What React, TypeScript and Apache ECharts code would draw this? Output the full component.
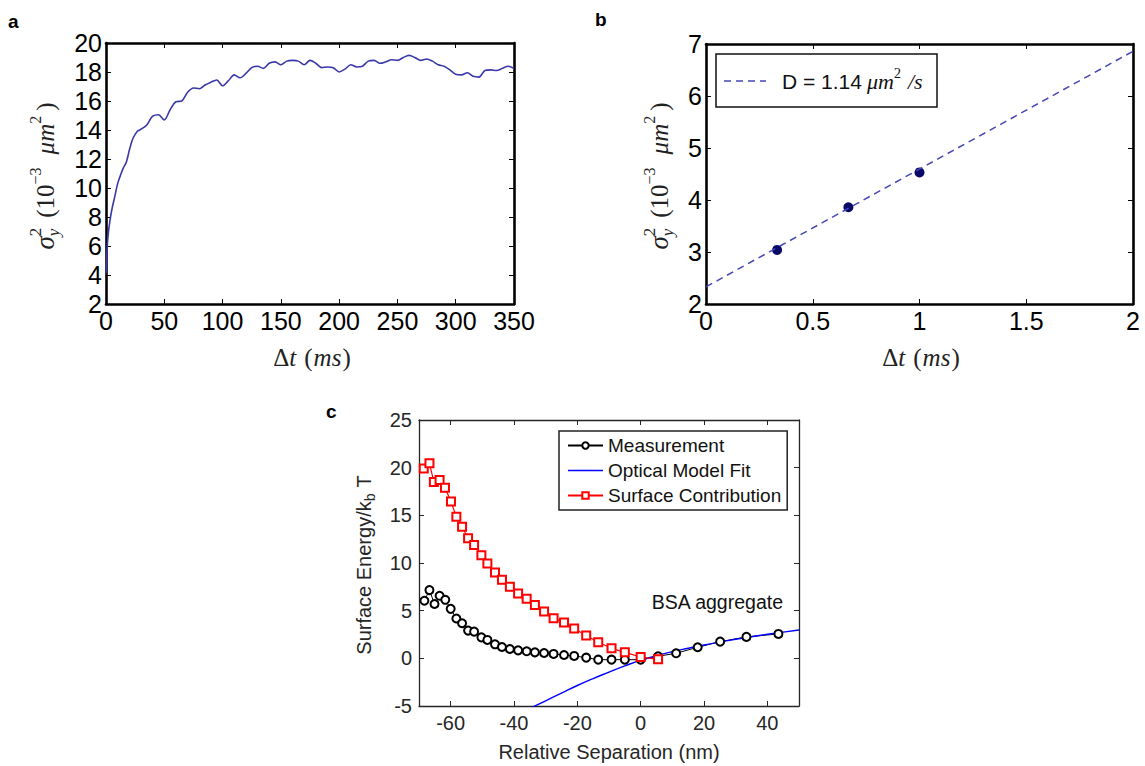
import React, { useEffect, useRef } from 'react';
import * as echarts from 'echarts';

// ---------- Panel a: variance vs lag time ----------
const aTime = [0, 1, 2, 3.5, 5, 7.5, 10, 12.5, 15, 17.5, 20, 22.5, 25, 27.5, 30, 35, 40, 45, 50, 55, 60, 65, 70, 75, 80, 85, 90, 95, 100, 105, 110, 115, 120, 125, 130, 135, 140, 145, 150, 155, 160, 165, 170, 175, 180, 185, 190, 195, 200, 205, 210, 215, 220, 225, 230, 235, 240, 245, 250, 255, 260, 265, 270, 275, 280, 285, 290, 295, 300, 305, 310, 315, 320, 325, 330, 335, 340, 345, 350];
const aVar = [4.1, 5.9, 6.9, 7.8, 8.5, 9.4, 10.3, 10.9, 11.4, 11.8, 12.6, 13.3, 13.7, 13.95, 14.05, 14.35, 14.95, 15.05, 14.7, 15.4, 15.95, 16.0, 16.6, 16.9, 16.85, 17.1, 17.3, 17.45, 17.05, 17.4, 17.8, 17.6, 17.9, 18.3, 18.4, 18.25, 18.6, 18.7, 18.5, 18.75, 18.8, 18.75, 18.5, 18.8, 18.6, 18.3, 18.35, 18.3, 18.0, 18.2, 18.5, 18.35, 18.4, 18.75, 18.8, 18.6, 18.7, 18.85, 18.8, 19.0, 19.15, 19.0, 18.8, 18.9, 18.75, 18.5, 18.4, 18.15, 17.85, 17.8, 17.95, 17.7, 17.65, 18.1, 18.15, 18.1, 18.25, 18.4, 18.25];

// ---------- Panel b: short-lag points + linear fit ----------
const bTime = [0.333, 0.667, 1.0];
const bVar = [3.04, 3.86, 4.53];
const bFitTime = [0, 2];
const bFitVar = [2.33, 6.86];

// ---------- Panel c: surface energy ----------
const cMeasX = [-68.3, -66.7, -65.1, -63.5, -61.7, -60.0, -58.2, -56.4, -54.5, -52.6, -50.3, -48.4, -46.0, -43.8, -41.3, -38.7, -36.0, -33.4, -30.5, -27.5, -24.2, -21.0, -17.2, -13.4, -9.2, -5.0, 0.0, 5.5, 11.2, 18.0, 25.1, 33.4, 43.5];
const cMeasY = [6.04, 7.16, 5.7, 6.56, 6.14, 5.19, 4.18, 3.68, 2.91, 2.8, 2.2, 1.93, 1.47, 1.19, 0.98, 0.84, 0.74, 0.63, 0.56, 0.46, 0.35, 0.25, 0.07, -0.14, -0.14, -0.14, -0.14, 0.22, 0.53, 1.16, 1.75, 2.25, 2.56];
const cSurfX = [-68.5, -66.7, -65.3, -63.5, -61.8, -59.9, -58.2, -56.4, -54.5, -52.6, -50.3, -48.4, -46.0, -43.8, -41.3, -38.7, -36.0, -33.4, -30.5, -27.5, -24.2, -21.0, -17.2, -13.4, -9.2, -5.0, 0.0, 5.5];
const cSurfY = [19.9, 20.46, 18.5, 18.7, 17.9, 16.45, 14.84, 13.8, 12.6, 11.9, 10.8, 9.96, 9.0, 8.25, 7.5, 6.8, 6.25, 5.6, 4.9, 4.2, 3.75, 3.12, 2.39, 1.68, 1.05, 0.63, 0.14, -0.1];
const cFitX = [-35, -30, -25, -20, -15, -10, -5, 0, 5, 10, 15, 20, 25, 30, 35, 40, 45, 50];
const cFitY = [-5.25, -4.45, -3.65, -2.85, -2.12, -1.45, -0.8, -0.2, 0.27, 0.7, 1.06, 1.4, 1.71, 2.0, 2.27, 2.52, 2.75, 2.97];
const cXTicks = [-60, -40, -20, 0, 20, 40];
const cLegend = ['Measurement', 'Optical Model Fit', 'Surface Contribution'];

const SERIF = '"Liberation Serif", "DejaVu Serif", serif';
const SANS = '"Liberation Sans", Arial, sans-serif';

let mctx: CanvasRenderingContext2D | null = null;
function measure(t: string, font: string): number {
  if (!mctx) mctx = document.createElement('canvas').getContext('2d');
  if (!mctx) return t.length * 10;
  mctx.font = font;
  return mctx.measureText(t).width;
}

type Piece = { t: string; size: number; fam: string; it?: boolean; bold?: boolean; dy?: number; stack?: boolean; gap?: number };

function mathText(pieces: Piece[], x: number, y: number, color: string, rotation = 0, anchor: 'center' | 'left' = 'center') {
  const placed: { p: Piece; font: string; px: number }[] = [];
  let cursor = 0;
  let lastStart = 0;
  for (const p of pieces) {
    const font = `${p.it ? 'italic ' : ''}${p.bold ? 'bold ' : ''}${p.size}px ${p.fam}`;
    const w = measure(p.t, font);
    let px: number;
    if (p.stack) {
      px = lastStart;
      cursor = Math.max(cursor, lastStart + w);
    } else {
      px = cursor + (p.gap ?? 0);
      lastStart = px;
      cursor = px + w;
    }
    placed.push({ p, font, px });
  }
  const off = anchor === 'left' ? 0 : -cursor / 2;
  return {
    type: 'group',
    x,
    y,
    rotation,
    silent: true,
    children: placed.map(({ p, font, px }) => ({
      type: 'text',
      x: px + off,
      y: p.dy ?? 0,
      style: { text: p.t, font, fill: color, textAlign: 'left', textVerticalAlign: 'middle', align: 'left', verticalAlign: 'middle' },
    })),
  };
}

function sigmaLabel(x: number, y: number) {
  return mathText(
    [
      { t: 'σ', size: 27, fam: SERIF, it: true },
      { t: 'y', size: 17, fam: SERIF, it: true, dy: 8 },
      { t: '2', size: 17, fam: SERIF, dy: -10, stack: true },
      { t: '(10', size: 25, fam: SERIF, gap: 10 },
      { t: '−3', size: 16, fam: SERIF, dy: -10 },
      { t: 'μm', size: 25, fam: SERIF, it: true, gap: 13 },
      { t: '2', size: 16, fam: SERIF, dy: -10 },
      { t: ')', size: 25, fam: SERIF, gap: 5 },
    ],
    x,
    y,
    '#222',
    Math.PI / 2
  );
}

function dtLabel(x: number, y: number) {
  return mathText(
    [
      { t: 'Δ', size: 25, fam: SERIF },
      { t: 't', size: 25, fam: SERIF, it: true },
      { t: '(', size: 25, fam: SERIF, gap: 8 },
      { t: 'ms', size: 25, fam: SERIF, it: true, gap: 1 },
      { t: ')', size: 25, fam: SERIF, gap: 1 },
    ],
    x,
    y,
    '#222'
  );
}

function frameAxes(gridIndex: number, min: number, max: number, interval: number | null, isX: boolean, opts: any) {
  const common = {
    gridIndex,
    type: 'value',
    min,
    max,
    ...(interval !== null ? { interval } : {}),
    splitLine: { show: false },
    axisLine: { show: true, onZero: false, lineStyle: { color: opts.lineColor, width: opts.lineWidth } },
    axisTick: {
      show: true,
      inside: true,
      length: opts.tickLen,
      lineStyle: { color: opts.lineColor, width: 1 },
      ...(opts.custom ? { customValues: opts.custom } : {}),
    },
  };
  const main = {
    ...common,
    position: isX ? 'bottom' : 'left',
    axisLabel: {
      show: true,
      showMinLabel: true,
      showMaxLabel: true,
      fontSize: opts.fontSize,
      fontFamily: opts.fontFamily,
      color: opts.labelColor,
      margin: opts.margin,
      ...(opts.custom ? { customValues: opts.custom } : {}),
    },
  };
  const mirror = {
    ...common,
    position: isX ? 'top' : 'right',
    axisLabel: { show: false },
  };
  return [main, mirror];
}

export default function App() {
  const ref = useRef<HTMLDivElement>(null);

  useEffect(() => {
    if (!ref.current) return;
    const chart = echarts.init(ref.current, null, { renderer: 'svg' });

    const abStyle = { lineColor: '#000', lineWidth: 2.6, tickLen: 5, fontSize: 25, fontFamily: SANS, labelColor: '#000', margin: 4 };
    const cStyle = { lineColor: '#262626', lineWidth: 1.3, tickLen: 5, fontSize: 20, fontFamily: SANS, labelColor: '#262626', margin: 7 };

    const xAxes = [
      ...frameAxes(0, 0, 350, 50, true, abStyle),
      ...frameAxes(1, 0, 2, 0.5, true, abStyle),
      ...frameAxes(2, -70, 50, null, true, { ...cStyle, custom: cXTicks }),
    ];
    const yAxes = [
      ...frameAxes(0, 2, 20, 2, false, abStyle),
      ...frameAxes(1, 2, 7, 1, false, abStyle),
      ...frameAxes(2, -5, 25, 5, false, cStyle),
    ];

    const option: any = {
      animation: false,
      backgroundColor: '#fff',
      grid: [
        { left: 106, top: 43, width: 408, height: 261, outerBoundsMode: 'none', containLabel: false },
        { left: 706, top: 44, width: 427, height: 260, outerBoundsMode: 'none', containLabel: false },
        { left: 419, top: 420, width: 380, height: 286, outerBoundsMode: 'none', containLabel: false },
      ],
      xAxis: xAxes,
      yAxis: yAxes,
      legend: [
        {
          data: [
            { name: cLegend[0] },
            { name: cLegend[1], icon: 'path://M0 0H100V4H0Z', itemStyle: { color: '#0000ff' } },
            { name: cLegend[2] },
          ],
          orient: 'vertical',
          left: 559,
          top: 431,
          itemWidth: 35,
          itemHeight: 8,
          itemGap: 6,
          padding: [5, 6, 5, 8],
          borderColor: '#222',
          borderWidth: 1.5,
          backgroundColor: '#fff',
          textStyle: { fontSize: 19, fontFamily: SANS, color: '#111' },
          selectedMode: false,
        },
      ],
      series: [
        {
          type: 'line',
          name: 'aCurve',
          xAxisIndex: 0,
          yAxisIndex: 0,
          data: aTime.map((t, i) => [t, aVar[i]]),
          symbol: 'none',
          smooth: 0.3,
          lineStyle: { color: '#3838a8', width: 1.6 },
        },
        {
          type: 'line',
          name: 'bFit',
          xAxisIndex: 2,
          yAxisIndex: 2,
          data: bFitTime.map((t, i) => [t, bFitVar[i]]),
          symbol: 'none',
          lineStyle: { color: '#4646b6', width: 1.5, type: [7, 5] },
        },
        {
          type: 'scatter',
          name: 'bPoints',
          xAxisIndex: 2,
          yAxisIndex: 2,
          data: bTime.map((t, i) => [t, bVar[i]]),
          symbolSize: 10,
          itemStyle: { color: '#0a0a66', opacity: 1 },
        },
        {
          type: 'line',
          name: 'Measurement',
          xAxisIndex: 4,
          yAxisIndex: 4,
          data: cMeasX.map((x, i) => [x, cMeasY[i]]),
          symbol: 'emptyCircle',
          symbolSize: 8,
          lineStyle: { color: '#000', width: 1 },
          itemStyle: { color: '#000', borderWidth: 1 },
        },
        {
          type: 'line',
          name: 'Optical Model Fit',
          xAxisIndex: 4,
          yAxisIndex: 4,
          data: cFitX.map((x, i) => [x, cFitY[i]]),
          symbol: 'none',
          smooth: true,
          lineStyle: { color: '#0000ff', width: 1.4 },
          itemStyle: { color: '#0000ff' },
        },
        {
          type: 'line',
          name: 'Surface Contribution',
          xAxisIndex: 4,
          yAxisIndex: 4,
          data: cSurfX.map((x, i) => [x, cSurfY[i]]),
          symbol: 'emptyRect',
          symbolSize: 8,
          lineStyle: { color: '#ff0000', width: 1.2 },
          itemStyle: { color: '#ff0000', borderWidth: 1 },
        },
      ],
      graphic: [
        // panel letters
        { type: 'text', x: 8, y: 12, silent: true, style: { text: 'a', font: `bold 19px ${SANS}`, fill: '#000' } },
        { type: 'text', x: 595, y: 10, silent: true, style: { text: 'b', font: `bold 19px ${SANS}`, fill: '#000' } },
        { type: 'text', x: 326, y: 402, silent: true, style: { text: 'c', font: `bold 19px ${SANS}`, fill: '#000' } },
        // axis titles a / b
        sigmaLabel(45, 176),
        dtLabel(312, 357),
        sigmaLabel(659, 176),
        dtLabel(921, 357),
        // legend b
        { type: 'rect', silent: true, shape: { x: 716, y: 54, width: 221, height: 53 }, style: { fill: '#fff', stroke: '#111', lineWidth: 1.5 } },
        { type: 'line', silent: true, shape: { x1: 724, y1: 81, x2: 766, y2: 81 }, style: { stroke: '#4646b6', lineWidth: 1.5, lineDash: [7, 5] } },
        mathText(
          [
            { t: 'D = 1.14', size: 21, fam: SANS },
            { t: 'μm', size: 22, fam: SERIF, it: true, gap: 5 },
            { t: '2', size: 14, fam: SERIF, dy: -8 },
            { t: '/s', size: 22, fam: SERIF, it: true, gap: 7 },
          ],
          782,
          81,
          '#111',
          0,
          'left'
        ),
        // axis titles c
        mathText(
          [
            { t: 'Surface Energy/k', size: 20, fam: SANS },
            { t: 'b', size: 14, fam: SANS, dy: 6 },
            { t: 'T', size: 20, fam: SANS, gap: 6 },
          ],
          364,
          565,
          '#262626',
          Math.PI / 2
        ),
        { type: 'text', x: 609, y: 752, silent: true, style: { text: 'Relative Separation (nm)', font: `20px ${SANS}`, fill: '#262626', textAlign: 'center', textVerticalAlign: 'middle', align: 'center', verticalAlign: 'middle' } },
        { type: 'text', x: 783, y: 602, silent: true, style: { text: 'BSA aggregate', font: `19.5px ${SANS}`, fill: '#111', textAlign: 'right', textVerticalAlign: 'middle', align: 'right', verticalAlign: 'middle' } },
      ],
    };

    chart.setOption(option);
    return () => {
      chart.dispose();
    };
  }, []);

  return <div ref={ref} style={{ position: 'absolute', left: 0, top: 0, width: 1145, height: 766 }} />;
}
